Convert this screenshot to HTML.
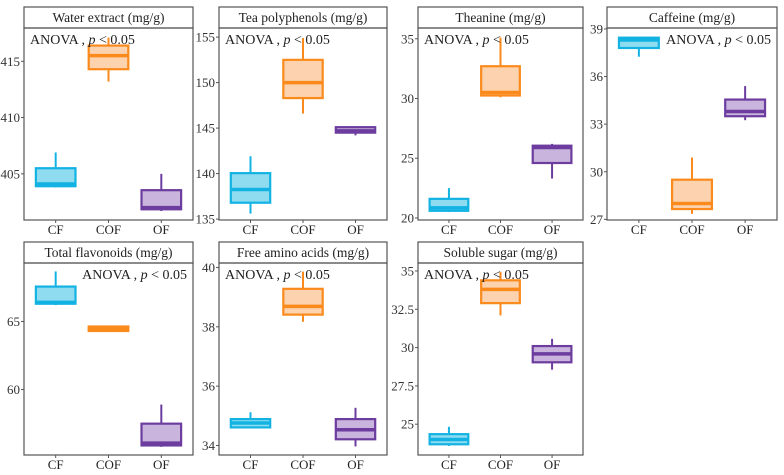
<!DOCTYPE html>
<html><head><meta charset="utf-8"><style>
body{margin:0;background:#fff}
svg{display:block;font-family:"Liberation Serif",serif}
</style></head><body>
<svg id="c" width="784" height="475"></svg>
<script>
const groups=["CF","COF","OF"];
const titles=["Water extract (mg/g)","Tea polyphenols (mg/g)","Theanine (mg/g)","Caffeine (mg/g)","Total flavonoids (mg/g)","Free amino acids (mg/g)","Soluble sugar (mg/g)"];
// each: [whiskerLow, q1, median, q3, whiskerHigh] per group CF, COF, OF
const waterExtract=[[403.8,403.9,404.1,405.5,406.9],[413.2,414.3,415.5,416.4,417.1],[401.7,401.85,402.0,403.55,405.0]];
const teaPolyphenols=[[135.6,136.8,138.25,140.05,141.9],[146.6,148.3,150.0,152.5,154.9],[144.2,144.5,144.7,145.1,145.2]];
const theanine=[[20.5,20.6,20.85,21.6,22.5],[30.1,30.25,30.5,32.7,35.1],[23.3,24.6,25.9,26.05,26.2]];
const caffeine=[[37.25,37.8,38.3,38.45,38.5],[27.35,27.65,28.0,29.5,30.9],[33.25,33.5,33.8,34.55,35.4]];
const totalFlavonoids=[[66.2,66.3,66.4,67.56,68.67],[64.25,64.3,64.43,64.63,64.7],[55.8,55.9,56.07,57.5,58.9]];
const freeAminoAcids=[[34.59,34.61,34.76,34.89,35.12],[38.17,38.41,38.69,39.28,39.86],[33.97,34.21,34.53,34.89,35.27]];
const solubleSugar=[[23.58,23.69,24.0,24.35,24.83],[32.1,32.9,33.8,34.39,34.93],[28.56,29.04,29.59,30.1,30.57]];
const domains=[[400.9,417.96],[134.9,156.0],[19.83,35.9],[26.96,39.06],[55.2,69.29],[33.68,40.15],[22.99,35.52]];
const ticks=[[405,410,415],[135,140,145,150,155],[20,25,30,35],[27,30,33,36,39],[60,65],[34,36,38,40],[25,27.5,30,32.5,35]];
const tickLabels=[["405","410","415"],["135","140","145","150","155"],["20","25","30","35"],["27","30","33","36","39"],["60","65"],["34","36","38","40"],["25","27.5","30","32.5","35"]];
const allData=[waterExtract,teaPolyphenols,theanine,caffeine,totalFlavonoids,freeAminoAcids,solubleSugar];
const anovaRight=[false,false,false,true,true,false,false];

const stroke=["#12b3e3","#fb8a1c","#6c3d9e"];
const fill=["#8fdcf1","#fdd2ae","#c8b4dc"];
const NS="http://www.w3.org/2000/svg";
const svg=document.getElementById("c");
function mk(t,a,p){const e=document.createElementNS(NS,t);for(const k in a)e.setAttribute(k,a[k]);(p||svg).appendChild(e);return e;}
const lefts=[24,219,418,607,24,219,418];
const rights=[193,387,583,777,193,387,583];
allData.forEach((data,i)=>{
  const row=i<4?0:1, off=row*235;
  const x0=lefts[i],x1=rights[i],sTop=7+off,sBot=28+off,pBot=220+off;
  const g=mk("g",{});
  
  
  const dom=domains[i];
  const y=v=>pBot-(v-dom[0])/(dom[1]-dom[0])*(pBot-sBot);
  const w=x1-x0;
  const xc=k=>x0+w*(0.6+k)/3.2;
  const bw=w*0.75/3.2;
  const st=mk("rect",{x:x0,y:sTop,width:w,height:sBot-sTop,fill:"#fff",stroke:"#555","stroke-width":1.2},g);
  
  const tt=mk("text",{x:x0+w/2,y:sTop+15,"text-anchor":"middle","font-size":13.5,fill:"#222"},g);
  tt.textContent=titles[i];
  
  data.forEach((d,k)=>{
    const c=xc(k);
    const bg=mk("g",{},g);
    
    
    mk("line",{x1:c,x2:c,y1:y(d[0]),y2:y(d[1]),stroke:stroke[k],"stroke-width":2},bg);
    mk("line",{x1:c,x2:c,y1:y(d[3]),y2:y(d[4]),stroke:stroke[k],"stroke-width":2},bg);
    mk("rect",{x:c-bw/2,y:y(d[3]),width:bw,height:Math.max(1,y(d[1])-y(d[3])),fill:fill[k],stroke:stroke[k],"stroke-width":2.2},bg);
    mk("line",{x1:c-bw/2,x2:c+bw/2,y1:y(d[2]),y2:y(d[2]),stroke:stroke[k],"stroke-width":3.5},bg);
  });
  const pb=mk("rect",{x:x0,y:sBot,width:w,height:pBot-sBot,fill:"none",stroke:"#555","stroke-width":1.2},g);
  
  ticks[i].forEach((t,j)=>{
    const yy=y(t);
    mk("line",{x1:x0-3,x2:x0,y1:yy,y2:yy,stroke:"#555","stroke-width":1},g);
    const tl=mk("text",{x:x0-4,y:yy+4.5,"text-anchor":"end","font-size":13,fill:"#333"},g);
    tl.textContent=tickLabels[i][j];
    
  });
  groups.forEach((gn,k)=>{
    mk("line",{x1:xc(k),x2:xc(k),y1:pBot,y2:pBot+3,stroke:"#555","stroke-width":1},g);
    const xl=mk("text",{x:xc(k),y:pBot+14,"text-anchor":"middle","font-size":13,fill:"#222"},g);
    xl.textContent=gn;
    
  });
  const at=mk("text",{x:anovaRight[i]?x1-6:x0+6,y:sBot+16,"text-anchor":anovaRight[i]?"end":"start","font-size":14,fill:"#222"},g);
  at.innerHTML='ANOVA , <tspan font-style="italic">p</tspan> &lt; 0.05';
  
});
</script>
</body></html>
